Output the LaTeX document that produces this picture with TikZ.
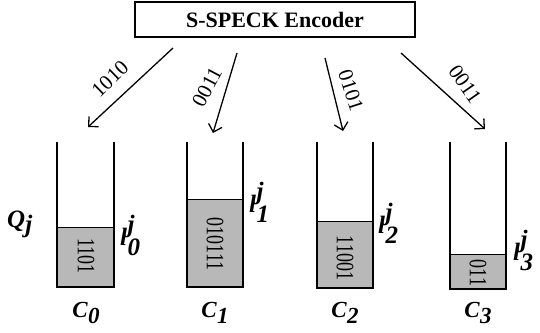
\documentclass[tikz,border=0pt]{standalone}
\usepackage{fontspec}
\setmainfont{Liberation Serif}
\usetikzlibrary{arrows.meta}
\definecolor{qgray}{gray}{0.72}
\newcommand{\lvlab}[1]{l\kern0.5pt\rlap{\raisebox{0.5em}{j}}\raisebox{-0.4em}{#1}}
\newcommand{\clab}[1]{C\kern0.5pt\raisebox{-0.28em}{#1}}
\tikzset{
 encbox/.style={draw, line width=2.4pt, minimum width=280pt, minimum height=35pt, inner sep=0pt, font=\fontsize{22}{24}\selectfont\bfseries},
 arr/.style={line width=1.3pt, -{Straight Barb[length=7pt,width=14pt,line width=1.3pt]}},
 bits/.style={font=\fontsize{21}{22}\selectfont, inner sep=0pt},
 wall/.style={line width=1.5pt},
 lvl/.style={line width=0.8pt},
 vbits/.style={rotate=-90, inner sep=0pt, font=\fontsize{25}{25}\selectfont},
 lab/.style={font=\fontsize{25}{26}\selectfont\bfseries\itshape, inner sep=0pt},
 clabs/.style={font=\fontsize{23}{24}\selectfont\bfseries\itshape, inner sep=0pt},
}
\begin{document}
\begin{tikzpicture}[x=1pt,y=1pt]
\useasboundingbox (0,0) rectangle (540,-332);
% encoder
\node[encbox] (enc) at (275,-19.5) {S-SPECK Encoder};
% arrow endpoints
\coordinate (a1s) at (173,-48); \coordinate (a1e) at (88,-127);
\coordinate (a2s) at (237,-53); \coordinate (a2e) at (213,-133);
\coordinate (a3s) at (325,-58); \coordinate (a3e) at (343,-131);
\coordinate (a4s) at (401,-53); \coordinate (a4e) at (485,-129);
\draw[arr] (a1s) -- (a1e);
\draw[arr] (a2s) -- (a2e);
\draw[arr] (a3s) -- (a3e);
\draw[arr] (a4s) -- (a4e);
\node[bits, rotate=44] (t1) at (110,-79) {1010};
\node[bits, rotate=62] (t2) at (207,-87) {0011};
\node[bits, rotate=-72] (t3) at (351,-90) {0101};
\node[bits, rotate=-55] (t4) at (465,-84) {0011};
% bucket 0
\fill[qgray] (57,-227) rectangle (114,-287);
\draw[lvl] (57,-227) -- (114,-227);
\draw[wall] (57,-142) -- (57,-287) -- (114,-287) -- (114,-142);
\node[vbits] (v0) at (86,-256) {\scalebox{0.72}[1]{1101}};
% bucket 1
\fill[qgray] (187,-199) rectangle (243,-287);
\draw[lvl] (187,-199) -- (243,-199);
\draw[wall] (187,-142) -- (187,-287) -- (243,-287) -- (243,-142);
\node[vbits] (v1) at (215,-244) {\scalebox{0.72}[1]{010111}};
% bucket 2
\fill[qgray] (317,-221) rectangle (373,-288);
\draw[lvl] (317,-221) -- (373,-221);
\draw[wall] (317,-142) -- (317,-288) -- (373,-288) -- (373,-142);
\node[vbits] (v2) at (345,-258) {\scalebox{0.72}[1]{11001}};
% bucket 3
\fill[qgray] (450,-254) rectangle (506,-289);
\draw[lvl] (450,-254) -- (506,-254);
\draw[wall] (450,-142) -- (450,-289) -- (506,-289) -- (506,-142);
\node[vbits] (v3) at (478,-273) {\scalebox{0.72}[1]{011}};
% level labels
\node[lab, anchor=base west] (l0) at (120,-245) {\lvlab{0}};
\node[lab, anchor=base west] (l1) at (249,-212) {\lvlab{1}};
\node[lab, anchor=base west] (l2) at (378,-233) {\lvlab{2}};
\node[lab, anchor=base west] (l3) at (513,-260) {\lvlab{3}};
% Q_j
\node[lab, anchor=base west] (q) at (7,-227) {Q\raisebox{-0.2em}{j}};
% C labels
\node[clabs, anchor=base] (c0) at (86,-317) {\clab{0}};
\node[clabs, anchor=base] (c1) at (215,-317) {\clab{1}};
\node[clabs, anchor=base] (c2) at (345,-317) {\clab{2}};
\node[clabs, anchor=base] (c3) at (478,-317) {\clab{3}};
\end{tikzpicture}
\end{document}
